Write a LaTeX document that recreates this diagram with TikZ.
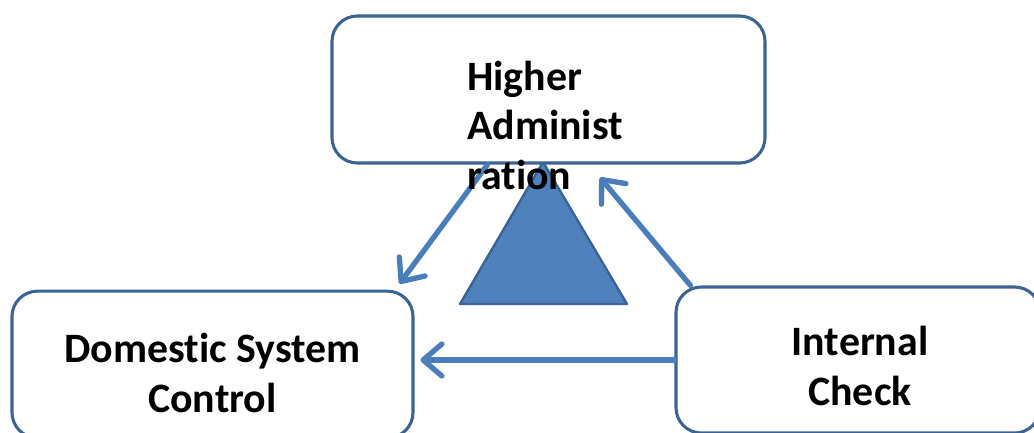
\documentclass[tikz,border=0pt]{standalone}
\usepackage{fontspec}
\setmainfont{Carlito}[RawFeature=-liga]
\usetikzlibrary{arrows.meta,calc}
\definecolor{boxline}{HTML}{3B6393}
\definecolor{linkblue}{HTML}{4A7EBB}
\definecolor{trifill}{HTML}{4F81BD}
\tikzset{
  box/.style  = {rectangle, rounded corners=19pt, draw=boxline, line width=2.3pt,
                 fill=white, inner sep=0pt},
  lbl/.style  = {inner sep=0pt, font=\fontsize{31.4}{37}\selectfont\bfseries},
  link/.style = {-{Straight Barb[round, length=14pt, width=24pt]}, line width=4pt,
                 linkblue, line cap=round},
  tri/.style  = {draw=boxline, line width=1.8pt, fill=trifill, line join=round},
}

\begin{document}
\begin{tikzpicture}[x=0.75pt, y=-0.75pt]
  \useasboundingbox (0,0) rectangle (1034,432);

  % centre triangle
  \draw[tri] (543,162) -- (627,304) -- (460,304) -- cycle;

  % the three boxes
  \node[box, minimum width=324.75pt, minimum height=110.25pt] (admin)    at (548.5,89.5) {};
  \node[box, minimum width=300.75pt, minimum height=110pt]    (domestic) at (212.5,364.5) {};
  \node[box, minimum width=273pt,    minimum height=109.5pt]  (check)    at (858,360) {};

  % links between them
  \draw[link] ($(admin.south)+(-61,0)$) -- ($(domestic.north east)+(-15,-6)$);
  \draw[link] ($(check.north west)+(16,0)$) -- ($(admin.south)+(51.5,13)$);
  \draw[link] (check.west) -- ($(check.west -| domestic.east)+(6,0)$);

  % labels
  \node[lbl, align=left, anchor=north west] (admin-lbl) at (467,61)
       {Higher\\Administ\\ration};
  \node[lbl, align=center] (domestic-lbl) at (212.5,373) {Domestic System\\Control};
  \node[lbl, align=center] (check-lbl) at (860,366) {Internal\\Check};
\end{tikzpicture}
\end{document}
